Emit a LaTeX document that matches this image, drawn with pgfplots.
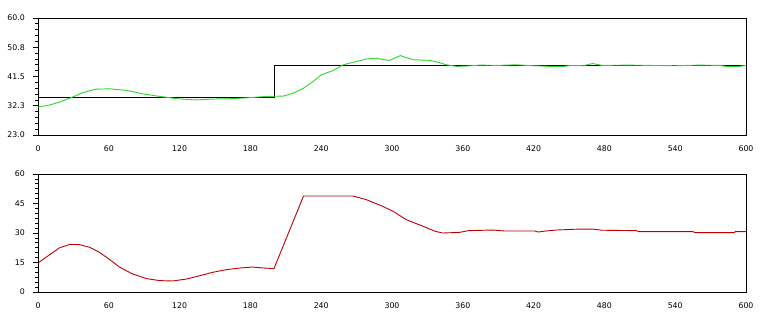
\documentclass[border=0pt]{standalone}
\usepackage{pgfplots}
\pgfplotsset{compat=1.18}
\usepackage{fontspec}
\setmainfont{DejaVu Sans}
\definecolor{pvgreen}{RGB}{40,215,40}
\definecolor{mvred}{RGB}{190,0,0}
\begin{document}
\begin{tikzpicture}
\path[use as bounding box] (0bp,0bp) rectangle (781bp,329bp);
\pgfplotsset{
  every axis/.append style={
    scale only axis, width=708bp,
    xmin=0, xmax=600, xtick={0,60,...,600},
    axis line style={line width=0.8bp},
    tick style={black, line width=0.7bp},
    xtick style={draw=none},
    tick align=outside,
    major tick length=5bp, minor tick length=3bp,
    ytick pos=left, xtick pos=bottom,
    font=\fontsize{7.8bp}{9bp}\selectfont,
    /pgf/number format/assume math mode=true,
    yticklabel style={anchor=east, inner sep=0pt, xshift=-8bp},
    xticklabel style={anchor=north, inner sep=0pt, yshift=-5.5bp},
    clip=false,
  }
}
\begin{axis}[at={(38bp,311bp)}, anchor=north west, height=117bp,
  ymin=23, ymax=60, ytick={23,32.25,41.5,50.75,60},
  yticklabels={23.0,32.3,41.5,50.8,60.0}, minor y tick num=4]
\addplot[black, line width=0.8bp, const plot] coordinates {
(0,35) (200,45) (600,45)};
\addplot[pvgreen, line width=0.9bp] coordinates {
(0,31.8) (10,32.5) (18,33.4) (28,34.8) (38,36.4) (49,37.5) (61,37.6) (75,37.1) (89,36.0) (103,35.2) (120,34.4) (134,34.1) (151,34.4) (165,34.5) (179,34.8) (194,35.2) (208,35.3) (216,36.2) (225,37.8) (233,39.9) (240,42.0) (250,43.4) (258,45.1) (267,46.0) (278,47.0) (287,47.3) (293,46.8) (298,46.6) (307,48.1) (318,46.8) (332,46.6) (339,46.0) (346,45.2) (355,44.7) (363,44.8) (375,45.1) (390,45.0) (405,45.2) (420,44.9) (434,44.7) (445,44.7) (452,45.0) (462,44.9) (470,45.6) (478,45.0) (500,45.1) (520,45.0) (540,44.9) (560,45.1) (578,45.0) (583,44.7) (592,44.6) (600,45.0)};
\end{axis}
\begin{axis}[at={(38bp,155bp)}, anchor=north west, height=118bp,
  ymin=0, ymax=60, ytick={0,15,30,45,60}, minor y tick num=5]
\addplot[mvred, line width=0.9bp] coordinates {
(0,14.7) (10,19) (18,22.4) (27,24.2) (35,24.1) (44,22.7) (52,20.2) (61,16.4) (69,12.7) (80,9.2) (92,6.8) (103,5.8) (114,5.6) (126,6.6) (137,8.3) (148,10.0) (160,11.4) (171,12.2) (182,12.7) (191,12.2) (200,11.9) (225,48.8) (250,48.8) (267,48.8) (278,47) (292,43.6) (301,41) (312,36.8) (323,34.2) (337,30.8) (343,30) (357,30.3) (365,31.2) (385,31.5) (396,31) (421,31) (424,30.5) (430,31) (439,31.5) (459,32) (470,32) (478,31.4) (507,31.2) (509,30.7) (555,30.7) (557,30.2) (590,30.2) (591,30.7) (600,30.7)};
\end{axis}
\end{tikzpicture}
\end{document}
